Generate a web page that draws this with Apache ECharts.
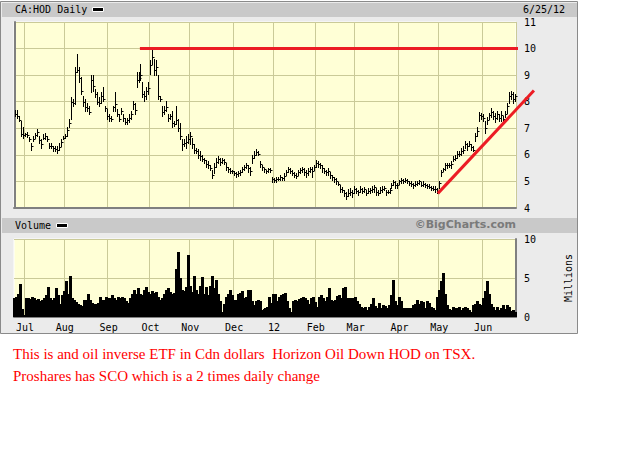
<!DOCTYPE html>
<html><head><meta charset="utf-8">
<script src="https://cdn.jsdelivr.net/npm/echarts@6/dist/echarts.min.js"></script>
<style>
html,body{margin:0;padding:0;background:#fff;}
#chart{position:absolute;left:0;top:0;width:636px;height:460px;}
#note{position:absolute;left:13px;top:343px;font-family:'Liberation Serif','Times New Roman',serif;font-size:15px;line-height:22px;color:#FF0000;white-space:pre;}
</style></head><body>
<div id="chart"></div>
<div id="note">This is and oil inverse ETF in Cdn dollars  Horizon Oil Down HOD on TSX.
Proshares has SCO which is a 2 times daily change</div>
<script>
const chartTitle = 'CA:HOD Daily';
const asOfDate = '6/25/12';
const volumeTitle = 'Volume';
const credit = '\u00A9BigCharts.com';
const volumeUnit = 'Millions';
// tick labels for month starts, indexed by month number - 1 (January shows the year)
const monthLabels = ['12','Feb','Mar','Apr','May','Jun','Jul','Aug','Sep','Oct','Nov','Dec'];
const priceTicks = [4, 5, 6, 7, 8, 9, 10, 11];
const volumeTicks = [0, 5, 10];
const holidays = ['2011-07-01','2011-08-01','2011-09-05','2011-10-10','2011-12-26','2011-12-27','2012-01-02','2012-02-20','2012-04-06','2012-05-21'];
const firstDay = '2011-06-24', lastDay = '2012-06-25';

const high = [
7.70,7.68,7.45,7.28,7.03,6.84,6.86,6.68,6.46,6.71,
6.84,6.96,6.71,6.58,6.77,6.84,6.71,6.46,6.43,6.35,
6.33,6.33,6.46,6.58,6.71,6.77,7.03,7.34,8.16,8.10,
9.30,9.81,9.30,8.92,8.23,8.10,7.97,7.85,8.99,8.99,
8.48,8.35,8.16,8.35,8.54,7.85,7.72,7.53,7.47,7.85,
8.35,7.72,7.53,7.78,7.53,7.40,7.40,7.53,7.66,8.04,
7.97,9.11,9.11,9.43,8.73,8.42,8.54,8.73,9.56,9.94,
9.62,9.56,8.99,8.23,7.85,7.85,8.04,7.53,7.53,7.66,
7.28,7.85,7.34,7.20,6.60,6.59,6.72,6.78,6.85,6.65,
6.40,6.27,6.21,6.14,6.01,5.88,5.82,5.76,5.63,5.44,
5.69,5.88,5.95,5.88,5.88,5.85,5.69,5.56,5.50,5.44,
5.41,5.37,5.41,5.44,5.56,5.63,5.69,5.63,5.56,6.01,
6.14,6.21,6.14,5.76,5.63,5.50,5.44,5.50,5.50,5.18,
5.12,5.18,5.18,5.24,5.18,5.31,5.44,5.56,5.50,5.44,
5.37,5.31,5.44,5.50,5.56,5.50,5.44,5.50,5.56,5.56,
5.63,5.82,5.76,5.69,5.63,5.50,5.44,5.50,5.37,5.24,
5.18,5.12,4.99,4.86,4.79,4.67,4.60,4.70,4.75,4.68,
4.81,4.75,4.68,4.81,4.75,4.78,4.68,4.75,4.75,4.81,
4.87,4.75,4.68,4.78,4.81,4.81,4.68,4.68,4.75,4.94,
5.06,5.00,4.94,5.06,5.13,5.09,5.13,5.09,5.03,5.00,
4.94,5.00,5.03,5.06,4.96,5.00,4.94,4.91,4.91,4.84,
4.84,4.81,4.75,5.00,5.44,5.51,5.70,5.70,5.70,5.76,
5.95,6.01,6.14,6.14,6.27,6.33,6.52,6.46,6.52,6.39,
6.33,6.84,7.03,7.62,7.59,7.53,7.28,7.41,7.59,7.78,
7.66,7.59,7.66,7.53,7.66,7.47,7.66,7.97,8.35,8.42,
8.35,8.29];

const low = [
7.45,7.38,7.28,6.71,6.65,6.71,6.68,6.52,6.20,6.52,
6.65,6.71,6.46,6.27,6.58,6.58,6.52,6.27,6.27,6.14,
6.14,6.08,6.20,6.35,6.58,6.65,6.71,7.03,7.34,7.85,
7.91,9.11,8.73,8.29,7.85,7.66,7.66,7.53,8.35,8.42,
8.16,7.91,7.85,7.97,8.04,7.66,7.34,7.28,7.28,7.66,
7.66,7.47,7.28,7.53,7.28,7.15,7.15,7.22,7.34,7.72,
7.53,8.54,8.73,8.80,8.16,8.04,8.10,8.29,9.05,9.43,
8.99,8.99,8.10,8.04,7.47,7.53,7.66,7.28,7.34,7.03,
7.09,7.15,6.90,6.58,6.20,6.33,6.27,6.46,6.40,6.27,
6.08,6.08,5.88,5.82,5.76,5.69,5.56,5.50,5.44,5.12,
5.31,5.56,5.69,5.63,5.69,5.67,5.44,5.37,5.31,5.31,
5.24,5.18,5.21,5.24,5.37,5.44,5.50,5.37,5.24,5.69,
5.88,6.01,6.01,5.56,5.44,5.37,5.31,5.37,5.37,4.99,
4.99,4.99,5.05,5.05,5.05,5.05,5.24,5.37,5.31,5.24,
5.18,5.12,5.24,5.31,5.37,5.24,5.18,5.24,5.37,5.18,
5.44,5.56,5.56,5.50,5.37,5.31,5.24,5.24,5.12,5.05,
4.99,4.92,4.86,4.60,4.60,4.47,4.35,4.47,4.49,4.43,
4.56,4.56,4.49,4.62,4.56,4.62,4.49,4.56,4.56,4.62,
4.62,4.49,4.49,4.56,4.62,4.68,4.49,4.56,4.58,4.75,
4.87,4.75,4.75,4.91,4.94,4.94,4.96,4.94,4.87,4.84,
4.75,4.84,4.87,4.91,4.81,4.81,4.78,4.75,4.75,4.68,
4.66,4.62,4.56,4.75,5.19,5.38,5.44,5.51,5.54,5.51,
5.76,5.82,5.89,5.95,6.01,6.08,6.27,6.20,6.33,6.20,
6.14,6.52,6.71,7.28,7.34,7.28,6.84,7.15,7.34,7.41,
7.34,7.22,7.34,7.28,7.28,7.22,7.41,7.59,7.97,8.10,
7.97,8.04];

const close = [
7.55,7.45,7.30,6.80,6.75,6.78,6.75,6.60,6.35,6.60,
6.75,6.85,6.55,6.40,6.65,6.70,6.60,6.35,6.35,6.25,
6.22,6.20,6.30,6.50,6.65,6.72,6.95,7.20,8.00,7.95,
9.10,9.20,8.90,8.40,8.00,7.80,7.75,7.60,8.80,8.60,
8.30,8.00,7.95,8.20,8.10,7.75,7.45,7.40,7.35,7.80,
7.90,7.55,7.35,7.65,7.40,7.25,7.30,7.40,7.55,7.90,
7.70,8.80,8.90,9.00,8.30,8.20,8.40,8.50,9.40,9.70,
9.20,9.30,8.20,8.10,7.60,7.70,7.80,7.40,7.45,7.20,
7.15,7.30,7.00,6.70,6.40,6.45,6.50,6.60,6.70,6.40,
6.20,6.15,6.00,5.95,5.85,5.80,5.65,5.60,5.50,5.25,
5.55,5.75,5.85,5.75,5.80,5.75,5.55,5.45,5.40,5.38,
5.32,5.28,5.30,5.35,5.45,5.55,5.60,5.50,5.40,5.90,
6.00,6.10,6.05,5.65,5.55,5.45,5.38,5.45,5.42,5.08,
5.05,5.10,5.10,5.15,5.12,5.20,5.35,5.48,5.40,5.32,
5.25,5.20,5.35,5.42,5.45,5.35,5.30,5.40,5.48,5.40,
5.55,5.70,5.65,5.60,5.50,5.40,5.35,5.38,5.25,5.15,
5.08,5.00,4.90,4.70,4.68,4.55,4.45,4.55,4.60,4.55,
4.70,4.65,4.60,4.72,4.65,4.70,4.58,4.65,4.68,4.72,
4.78,4.60,4.58,4.68,4.70,4.75,4.60,4.62,4.68,4.85,
4.98,4.85,4.85,5.00,5.05,5.00,5.05,5.00,4.95,4.90,
4.85,4.92,4.95,5.00,4.88,4.90,4.85,4.82,4.80,4.75,
4.72,4.70,4.62,4.95,5.35,5.45,5.60,5.60,5.62,5.65,
5.85,5.90,6.05,6.05,6.15,6.20,6.40,6.35,6.40,6.30,
6.20,6.70,6.90,7.50,7.45,7.40,7.00,7.30,7.50,7.60,
7.45,7.40,7.55,7.40,7.50,7.35,7.55,7.85,8.20,8.30,
8.10,8.20];

const volume = [
2.4,2.6,3.0,4.2,1.0,0.3,2.4,2.5,2.3,2.6,
2.5,2.2,2.3,2.1,2.2,2.5,2.8,3.9,2.5,2.2,
2.4,3.7,2.8,1.7,2.8,3.3,4.6,3.0,5.3,2.4,
2.2,1.9,1.7,1.5,1.4,2.2,2.2,3.0,2.2,1.8,
1.7,1.7,1.8,2.6,2.2,2.2,2.6,2.5,2.4,2.8,
2.4,2.2,2.6,2.5,2.6,2.4,2.0,1.8,2.4,3.0,
3.4,2.9,3.7,3.0,2.8,3.4,3.9,3.2,3.0,3.3,
3.1,3.2,2.6,2.2,2.5,3.0,3.4,3.7,3.2,3.0,
3.1,6.1,8.3,5.0,3.5,3.3,3.8,8.0,4.0,3.2,
5.2,3.5,3.0,4.0,5.1,3.0,3.8,2.8,4.0,5.3,
3.7,4.8,2.9,2.1,0.7,1.7,2.6,3.0,3.5,2.8,
2.2,2.2,2.9,3.1,3.3,2.4,2.6,3.4,3.5,2.0,
1.5,2.1,2.2,2.0,0.9,1.0,1.1,1.3,2.6,1.8,
3.0,2.9,2.0,2.6,2.8,3.0,3.1,2.0,1.1,0.7,
2.0,2.2,2.0,2.3,2.4,2.6,2.4,2.2,1.7,2.4,
2.6,1.9,1.3,2.6,2.8,2.5,2.1,2.6,3.7,2.2,
2.0,2.2,2.7,2.8,2.4,3.7,3.9,2.5,2.4,2.4,
2.5,2.6,2.1,1.7,1.3,1.1,1.3,0.9,1.3,1.7,
2.4,1.4,1.1,1.8,1.1,1.6,1.4,1.1,1.5,2.8,
4.7,2.0,1.5,2.6,2.0,1.2,1.1,1.2,1.1,1.1,
1.5,1.7,2.2,1.7,2.0,1.9,1.2,2.0,1.8,1.3,
1.1,0.9,2.6,3.5,4.6,5.7,3.0,1.5,1.0,0.9,
1.3,1.1,1.1,1.3,0.9,1.1,1.3,1.1,0.9,0.65,
1.5,1.7,2.0,1.7,1.5,2.4,3.3,4.6,3.0,1.7,
1.3,0.9,1.3,0.9,1.1,1.5,1.0,1.5,1.3,0.8,
0.9,0.7];

// drawn trend lines, each [startIndex, startPrice, endIndex, endPrice] in trading-day index / price
const trendLines = [
  [62.7, 10, 252.5, 10],
  [212.3, 4.55, 260.5, 8.42]
];

// trading-day categories
const dates = [];
(function () {
  let t = Date.parse(firstDay + 'T00:00:00Z');
  const end = Date.parse(lastDay + 'T00:00:00Z');
  while (t <= end) {
    const d = new Date(t);
    const wd = d.getUTCDay();
    const s = d.toISOString().slice(0, 10);
    if (wd !== 0 && wd !== 6 && holidays.indexOf(s) < 0) dates.push(s);
    t += 86400000;
  }
})();
const isMonthStart = (i) => i > 0 && dates[i].slice(5, 7) !== dates[i - 1].slice(5, 7);
const nDays = dates.length;

const ohlc = dates.map((d, i) => [i, high[i], low[i], close[i]]);
const volData = dates.map((d, i) => [i, volume[i]]);

const MONO = "'DejaVu Sans Mono', 'Liberation Mono', monospace";
const GRIDC = '#CACA98';
const PLOTBG = '#FFFFD6';
const AXISC = '#808080';

const chart = echarts.init(document.getElementById('chart'), null, { renderer: 'svg' });
chart.setOption({
  animation: false,
  grid: [
    { left: 14, top: 22, width: 502, height: 186, show: true, backgroundColor: PLOTBG, borderColor: '#FFFFFF', borderWidth: 1 },
    { left: 14, top: 239, width: 502, height: 78, show: true, backgroundColor: PLOTBG, borderColor: '#FFFFFF', borderWidth: 1 }
  ],
  xAxis: [
    { type: 'category', gridIndex: 0, data: dates, boundaryGap: true,
      axisLine: { show: true, lineStyle: { color: AXISC, width: 2 } },
      axisTick: { show: false }, axisLabel: { show: false },
      splitLine: { show: true, interval: (i) => isMonthStart(i), lineStyle: { color: GRIDC, width: 1 } } },
    { type: 'category', gridIndex: 1, data: dates, boundaryGap: true,
      axisLine: { show: true, lineStyle: { color: AXISC, width: 2 } },
      axisTick: { show: false },
      axisLabel: { show: true, interval: (i) => isMonthStart(i), margin: 5,
        formatter: (v) => monthLabels[parseInt(v.slice(5, 7), 10) - 1],
        fontFamily: MONO, fontSize: 10, color: '#000' },
      splitLine: { show: true, interval: (i) => isMonthStart(i), lineStyle: { color: GRIDC, width: 1 } } },
    { type: 'value', gridIndex: 0, show: false, min: -0.5, max: nDays - 0.5 }
  ],
  yAxis: [
    { type: 'value', gridIndex: 0, position: 'right', min: priceTicks[0], max: priceTicks[priceTicks.length - 1], interval: 1,
      axisLine: { show: true, lineStyle: { color: AXISC, width: 2 } },
      axisTick: { show: false },
      axisLabel: { margin: 8, fontFamily: MONO, fontSize: 10, color: '#000' },
      splitLine: { show: true, lineStyle: { color: GRIDC, width: 1 } } },
    { type: 'value', gridIndex: 1, position: 'right', min: volumeTicks[0], max: volumeTicks[volumeTicks.length - 1], interval: 5,
      axisLine: { show: true, lineStyle: { color: AXISC, width: 2 } },
      axisTick: { show: false },
      axisLabel: { margin: 8, fontFamily: MONO, fontSize: 10, color: '#000' },
      splitLine: { show: true, lineStyle: { color: GRIDC, width: 1 } },
      name: volumeUnit, nameLocation: 'middle', nameRotate: 90, nameGap: 47,
      nameTextStyle: { fontFamily: MONO, fontSize: 10, color: '#000' } }
  ],
  graphic: [
    { type: 'rect', z: -100, silent: true, shape: { x: 0.5, y: 1.5, width: 577, height: 332 },
      style: { fill: '#EBEBEB', stroke: '#8A8A8A', lineWidth: 1 } },
    { type: 'rect', z: -90, silent: true, shape: { x: 2, y: 3, width: 575, height: 14 }, style: { fill: '#C9C9C9' } },
    { type: 'rect', z: -90, silent: true, shape: { x: 2, y: 218, width: 575, height: 15 }, style: { fill: '#C9C9C9' } },
    { type: 'text', z: 10, left: 15, top: 4, style: { text: chartTitle, font: "10px 'DejaVu Sans Mono'", fill: '#000' } },
    { type: 'rect', z: 10, shape: { x: 92.5, y: 7.5, width: 11, height: 4 }, style: { fill: '#000', stroke: '#fff', lineWidth: 1 } },
    { type: 'text', z: 10, left: 523, top: 4, style: { text: asOfDate, font: "10px 'DejaVu Sans Mono'", fill: '#000' } },
    { type: 'text', z: 10, left: 15, top: 220, style: { text: volumeTitle, font: "10px 'DejaVu Sans Mono'", fill: '#000' } },
    { type: 'rect', z: 10, shape: { x: 56.5, y: 223.5, width: 11, height: 4 }, style: { fill: '#000', stroke: '#fff', lineWidth: 1 } },
    { type: 'text', z: 10, right: 120, top: 219, style: { text: credit, font: "bold 11px 'DejaVu Sans'", fill: '#7A7A7A' } }
  ],
  series: [
    { type: 'custom', xAxisIndex: 1, yAxisIndex: 1, data: volData, encode: { x: 0, y: 1 }, silent: true, z: 3,
      renderItem: function (params, api) {
        const top = api.coord([api.value(0), api.value(1)]);
        const base = api.coord([api.value(0), 0]);
        const x0 = Math.round(top[0] - 1.5);
        const y0 = Math.round(top[1]);
        return { type: 'rect', shape: { x: x0, y: y0, width: 3, height: Math.round(base[1]) - y0 },
          style: { fill: '#000' } };
      } },
    { type: 'custom', xAxisIndex: 0, yAxisIndex: 0, data: ohlc, encode: { x: 0, y: [1, 2, 3] }, silent: true, z: 5,
      renderItem: function (params, api) {
        const hi = api.coord([api.value(0), api.value(1)]);
        const lo = api.coord([api.value(0), api.value(2)]);
        const cl = api.coord([api.value(0), api.value(3)]);
        const x = Math.round(hi[0]) + 0.5;
        const yc = Math.round(cl[1]) + 0.5;
        return { type: 'group', children: [
          { type: 'line', shape: { x1: x, y1: Math.round(hi[1]), x2: x, y2: Math.round(lo[1]) + 1 }, style: { stroke: '#000', lineWidth: 1 } },
          { type: 'line', shape: { x1: x, y1: yc, x2: x + 2, y2: yc }, style: { stroke: '#000', lineWidth: 1 } }
        ] };
      } },
    { type: 'custom', xAxisIndex: 2, yAxisIndex: 0, data: trendLines, clip: false, silent: true, z: 8,
      encode: { x: [0, 2], y: [1, 3] },
      renderItem: function (params, api) {
        const a = api.coord([api.value(0), api.value(1)]);
        const b = api.coord([api.value(2), api.value(3)]);
        return { type: 'line', shape: { x1: a[0], y1: a[1], x2: b[0], y2: b[1] },
          style: { stroke: '#EC1C24', lineWidth: 3 } };
      } }
  ]
});
</script>
</body></html>
